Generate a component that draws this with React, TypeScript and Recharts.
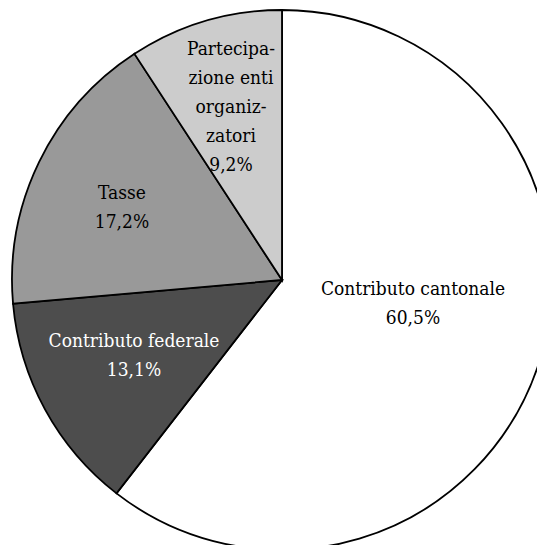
import React from "react";
import { PieChart, Pie, Cell } from "recharts";

const categories = [
  "Contributo cantonale",
  "Contributo federale",
  "Tasse",
  "Partecipazione enti organizzatori",
];
const values = [60.5, 13.1, 17.2, 9.2];
const valueLabels = ["60,5%", "13,1%", "17,2%", "9,2%"];
const labelLines = [
  ["Contributo cantonale"],
  ["Contributo federale"],
  ["Tasse"],
  ["Partecipa-", "zione enti", "organiz-", "zatori"],
];

const COLORS = ["#ffffff", "#4d4d4d", "#999999", "#cccccc"];
const TEXT_COLORS = ["#000000", "#ffffff", "#000000", "#000000"];
// label block centres relative to pie centre (layout)
const LABEL_OFFSETS = [
  { x: 131, y: 22 },
  { x: -148, y: 74 },
  { x: -160, y: -74 },
  { x: -51, y: -174 },
];

const data = categories.map((name, i) => ({ name, value: values[i] }));

const FONT = "'DejaVu Serif Condensed', 'DejaVu Serif', serif";
const LINE_H = 29;

const renderLabel = (props: any) => {
  const { cx, cy, index } = props;
  const lines = [...labelLines[index], valueLabels[index]];
  const off = LABEL_OFFSETS[index];
  const x = cx + off.x;
  const top = cy + off.y - ((lines.length - 1) * LINE_H) / 2;
  return (
    <text
      key={`lbl-${index}`}
      x={x}
      y={top}
      textAnchor="middle"
      dominantBaseline="central"
      fill={TEXT_COLORS[index]}
      fontFamily={FONT}
      fontSize={19}
    >
      {lines.map((l, k) => (
        <tspan key={k} x={x} y={top + k * LINE_H}>
          {l}
        </tspan>
      ))}
    </text>
  );
};

export default function App() {
  return (
    <div style={{ width: 545, height: 545 }}>
      <PieChart width={545} height={545} margin={{ top: 0, right: 0, bottom: 0, left: 0 }}>
        <Pie
          data={data}
          dataKey="value"
          cx={274}
          cy={272}
          outerRadius={270}
          startAngle={90}
          endAngle={-270}
          stroke="#000000"
          strokeWidth={1.8}
          label={renderLabel}
          labelLine={false}
          isAnimationActive={false}
        >
          {data.map((d, i) => (
            <Cell key={d.name} fill={COLORS[i]} />
          ))}
        </Pie>
      </PieChart>
    </div>
  );
}
